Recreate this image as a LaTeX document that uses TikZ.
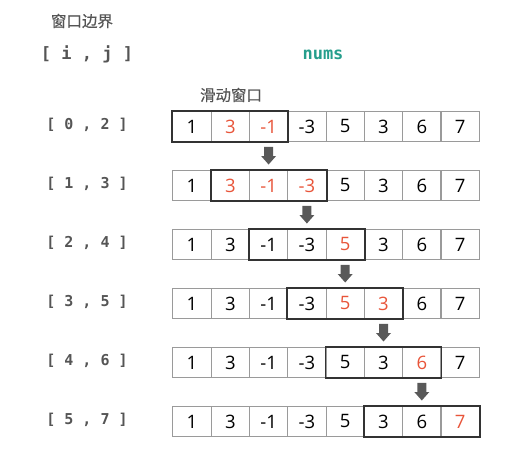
\documentclass[tikz,border=0pt]{standalone}
\usepackage{fontspec}
\setmainfont{Open Sans}
\setmonofont{DejaVu Sans Mono}
\newfontfamily\cjk[FakeBold=0.4]{Noto Sans CJK SC}
\usetikzlibrary{arrows.meta,calc}
\definecolor{cellline}{HTML}{9A9A9A}
\definecolor{winline}{HTML}{333333}
\definecolor{hot}{HTML}{E8553A}
\definecolor{labelgray}{HTML}{555555}
\definecolor{teal}{HTML}{259E8C}
\definecolor{arrowgray}{HTML}{595959}
\begin{document}
\begin{tikzpicture}[x=1pt,y=-1pt,
  cell/.style={draw=cellline,line width=1.1pt,minimum width=38.3pt,minimum height=29.7pt,inner sep=0pt,anchor=north west,font=\fontsize{18.5}{18.5}\selectfont},
  hotcell/.style={cell,text=hot},
  window/.style={draw=winline,line width=1.8pt},
  rowlabel/.style={font=\ttfamily\bfseries\fontsize{15}{15}\selectfont,text=labelgray},
  cjklabel/.style={font=\cjk\fontsize{15.5}{15.5}\selectfont,text=labelgray},
  blockarrow/.style={fill=arrowgray}
]
\useasboundingbox (0,0) rectangle (505,463);
\node[cjklabel] (title) at (82,21) {窗口边界};
\node[font=\ttfamily\bfseries\fontsize{17}{17}\selectfont,text=labelgray] (ij) at (87,54) {[ i , j ]};
\node[font=\ttfamily\bfseries\fontsize{17}{17}\selectfont,text=teal] (nums) at (323,55) {nums};
\node[cjklabel] (slide) at (231,95) {滑动窗口};
% rows
\foreach \r/\lo/\hi in {0/0/2,1/1/3,2/2/4,3/3/5,4/4/6,5/5/7}{
  \pgfmathsetmacro{\ytop}{111+59*\r}
  \node[rowlabel] (lab\r) at (87,\ytop+14) {[ \lo\ , \hi\ ]};
}
\def\vals{{1,3,-1,-3,5,3,6,7}}
% red pattern per row
\foreach \r/\hotlist in {0/{1,2},1/{1,2,3},2/{4},3/{4,5},4/{6},5/{7}}{
  \pgfmathsetmacro{\ytop}{111+59*\r}
  \foreach \k in {0,...,7}{
    \pgfmathsetmacro{\xl}{172.3+38.3*\k}
    \pgfmathtruncatemacro{\v}{\vals[\k]}
    \def\ishot{0}
    \foreach \h in \hotlist {\ifnum\h=\k\relax\xdef\ishot{1}\fi}
    \ifnum\ishot=1\relax
      \node[hotcell] (c\r\k) at (\xl,\ytop) {\v};
    \else
      \node[cell] (c\r\k) at (\xl,\ytop) {\v};
    \fi
  }
}
% windows
\foreach \r in {0,...,5}{
  \pgfmathtruncatemacro{\b}{\r+2}
  \draw[window] (c\r\r.north west) rectangle (c\r\b.south east);
}
% arrows (block arrows from row r to row r+1)
\foreach \r in {0,...,4}{
  \pgfmathtruncatemacro{\k}{\r+2}
  \pgfmathtruncatemacro{\n}{\r+1}
  \coordinate (a\r) at ([yshift=-5pt]c\r\k.south);
  \coordinate (b\r) at ([yshift=5.5pt]c\n\k.north);
  \fill[blockarrow] ($(a\r)+(-4.5,0)$) -- ($(a\r)+(4.5,0)$) -- ($(b\r)+(4.5,-8.5)$)
    -- ($(b\r)+(7.5,-8.5)$) -- (b\r) -- ($(b\r)+(-7.5,-8.5)$) -- ($(b\r)+(-4.5,-8.5)$) -- cycle;
}
\end{tikzpicture}
\end{document}
